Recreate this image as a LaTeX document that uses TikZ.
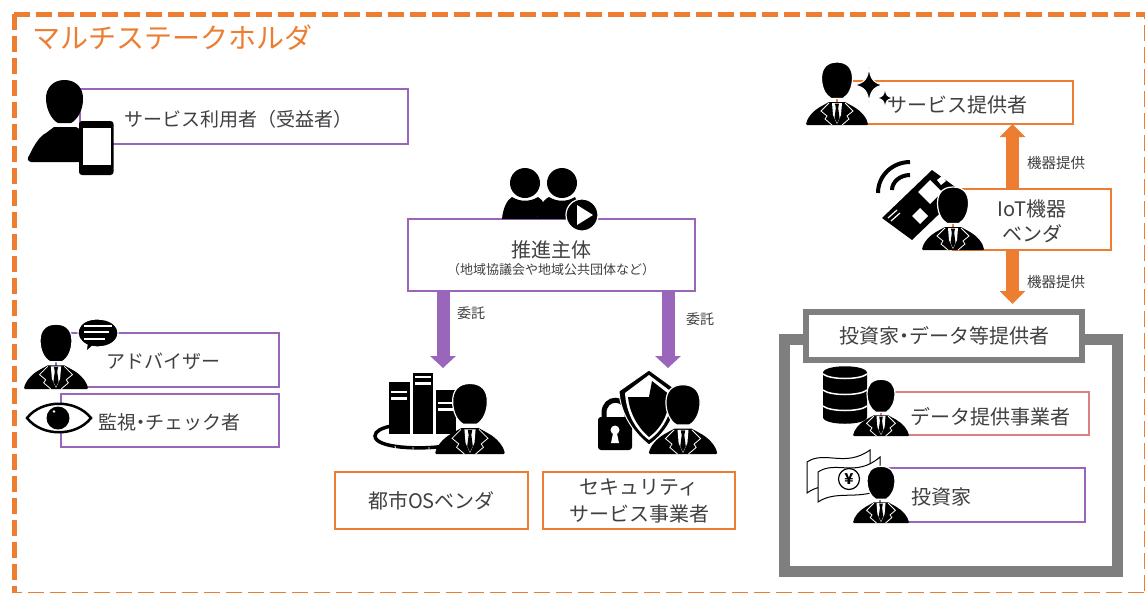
\documentclass[tikz,border=0pt]{standalone}
\usepackage{fontspec}
\setmainfont{Noto Sans CJK JP}
\usetikzlibrary{arrows.meta}
\definecolor{orng}{HTML}{ED7D31}
\definecolor{purp}{HTML}{9966BB}
\definecolor{pinkb}{HTML}{E07F7F}
\definecolor{grayb}{HTML}{7F7F7F}
\definecolor{txt}{HTML}{404040}
\newcommand{\fsz}[1]{\fontsize{#1}{#1}\selectfont}
\newcommand{\fszl}[2]{\fontsize{#1}{#2}\selectfont}
\tikzset{
 every node/.style={inner sep=0pt,outer sep=0pt,text=txt},
 pbox/.style={draw=purp,line width=2pt,fill=white},
 obox/.style={draw=orng,line width=2pt,fill=white},
 rbox/.style={draw=pinkb,line width=2pt,fill=white},
 gbox/.style={draw=grayb,line width=6pt,fill=white},
 lab/.style={font=\fsz{20}},
 small/.style={font=\fsz{14}},
 parrow/.style={draw=purp,line width=13pt,-{Triangle[width=25pt,length=12pt]}},
 oarrow/.style={draw=orng,line width=13pt,-{Triangle[width=25pt,length=13pt]}},
 suit/.pic={
  \fill[black] (-31,-1) .. controls (-30,-7) and (-24,-14) .. (-17,-18) -- (-8,-23) -- (8,-23) -- (17,-18) .. controls (24,-14) and (30,-7) .. (31,-1) -- (30,0) -- (-30,0) -- cycle;
  \draw[white,line width=1.2pt,fill=black] (0,-63) .. controls (-11,-63) and (-15.5,-56) .. (-15.5,-47) .. controls (-15.5,-38) and (-12,-30) .. (-6,-26.5) -- (6,-26.5) .. controls (12,-30) and (15.5,-38) .. (15.5,-47) .. controls (15.5,-56) and (11,-63) .. (0,-63) -- cycle;
  \fill[white] (-5,-22) -- (5,-22) -- (4,-10) -- (0,-1) -- (-4,-10) -- cycle;
  \fill[black] (-2,-21.5) -- (2,-21.5) -- (1.2,-17) -- (2.5,-7) -- (0,-2) -- (-2.5,-7) -- (-1.2,-17) -- cycle;
  \draw[white,line width=.8pt] (-8,-22) -- (-16,-14) -- (-10,-9) -- (-12,-6) -- (-5,0);
  \draw[white,line width=.8pt] (8,-22) -- (16,-14) -- (10,-9) -- (12,-6) -- (5,0);
 },
}
\begin{document}
\begin{tikzpicture}[x=1pt,y=-1pt]
\useasboundingbox (0,0) rectangle (1145,592);
\fill[white] (0,0) rectangle (1145,592);
% outer frame
\draw[orng,line width=5pt,dash pattern=on 16pt off 6pt] (14,14) rectangle (1146.5,594.4);
\node[anchor=west,text=orng,font=\fsz{28}] (title) at (32,38) {マルチステークホルダ};

% ---- user
\node[pbox,minimum width=328pt,minimum height=55pt] (user) at (244,116.5) {};
\node[font=\fsz{19}] (usert) at (238,119.5) {サービス利用者（受益者）};
\fill[black] (64.5,80) .. controls (53,80) and (46,88) .. (46,98) .. controls (46,110) and (52,120) .. (58,123) -- (71,123) .. controls (77,120) and (83.5,110) .. (83,98) .. controls (83,88) and (76,80) .. (64.5,80) -- cycle;
\fill[black] (54,127) -- (76,127) -- (85,132) -- (85,162) -- (31,162) .. controls (27,161) and (27,158) .. (30,154) .. controls (34,145) and (40,136) .. (46,133) -- cycle;
\fill[black,rounded corners=3pt] (79,121) rectangle (113.5,175);
\fill[white] (82.5,128) rectangle (110.5,165);

% ---- advisor
\node[pbox,minimum width=223pt,minimum height=54pt] (adv) at (167.5,360) {};
\node[font=\fsz{19}] (advt) at (163,361) {アドバイザー};
\pic[scale=1.03] at (56,389) {suit};
\draw[white,line width=1.2pt,fill=black] (86,352) -- (87,345) .. controls (72,338) and (76,319) .. (97,319) .. controls (125,319) and (125,347) .. (97,347) -- (92,346.5) -- cycle;
\draw[white,line width=2pt] (84,326) -- (112,326) (84,332) -- (109,332) (84,338.5) -- (105,338.5);

% ---- monitor
\node[pbox,minimum width=218pt,minimum height=53pt] (mon) at (170,420.5) {};
\node[font=\fsz{19}] (mont) at (169,422.5) {監視\hspace{-5pt}・\hspace{-5pt}チェック者};
\draw[black,line width=2.5pt,fill=white] (27,418) .. controls (42,399) and (76,399) .. (91,418) .. controls (76,437) and (42,437) .. (27,418) -- cycle;
\fill[black] (58,418) circle (11.5);
\fill[white] (54,411.5) circle (1.3);

% ---- promoter
\node[pbox,minimum width=287pt,minimum height=72pt] (prom) at (551.5,255) {};
\node[font=\fsz{20}] (promt) at (551,250) {推進主体};
\node[font=\fsz{13}] (proms) at (551,269.5) {（地域協議会や地域公共団体など）};
\fill[black] (525,183) circle (15);
\fill[black] (562,183) circle (15);
\fill[black] (502,219) .. controls (503,208) and (507,200) .. (512,197) .. controls (520,202) and (530,202) .. (538,197) .. controls (541,199) and (543,201) .. (544,204) .. controls (540,208) and (538,213) .. (537,219) -- cycle;
\fill[black] (537,219) .. controls (538,208) and (543,200) .. (549,197) .. controls (557,202) and (567,202) .. (575,197) -- (585,219) -- cycle;
\draw[white,line width=1.2pt,fill=black] (582,215) circle (16);
\fill[white] (577,205) -- (593,215) -- (577,225) -- cycle;

% ---- OS vendor
\node[obox,minimum width=193pt,minimum height=57pt,font=\fsz{20}] (os) at (431.5,500.5) {都市OSベンダ};
% ---- security
\node[obox,minimum width=192pt,minimum height=57pt,font=\fszl{20}{27},align=center] (sec) at (639,500.5) {セキュリティ\\サービス事業者};

% commission arrows
\coordinate (a1) at (443,368);
\coordinate (a2) at (668,368);
\draw[parrow] (a1 |- prom.south) -- (a1);
\draw[parrow] (a2 |- prom.south) -- (a2);
\node[small] (c1) at (471,313) {委託};
\node[small] (c2) at (700,319) {委託};

% server icon
\draw[black,line width=3.5pt] (445,446) .. controls (420,450) and (375,448) .. (375,436) .. controls (375,431) and (382,428) .. (391,426);
\draw[white,line width=.8pt] (395,446) -- (396,451) (413,447) -- (413,451) (429,447) -- (429,451);
\fill[black] (389,382) rectangle (410,434);
\fill[black] (413,373) rectangle (433,434);
\fill[black] (436,390) rectangle (456,434);
\draw[white,line width=2.5pt] (391,392) -- (407,392) (391,398.5) -- (407,398.5) (415,377) -- (431,377) (415,383.5) -- (431,383.5) (438,403) -- (454,403) (438,409.5) -- (454,409.5);
\pic[scale=1.12] at (470,454) {suit};

% shield/lock icon
\fill[black,rounded corners=3pt] (598,417) rectangle (632,450);
\draw[black,line width=5pt] (604,419) -- (604,413) .. controls (604,396) and (627,396) .. (627,413) -- (627,419);
\fill[white] (615,430) circle (4.5);
\fill[white] (613.5,431) -- (616.5,431) -- (619,443) -- (611,443) -- cycle;
\draw[white,line width=1pt,fill=black] (649,370) -- (678,391) .. controls (677,410) and (670,430) .. (649,445) .. controls (630,430) and (620,410) .. (619,391) -- cycle;
\fill[white] (649,375) -- (673,393) .. controls (672,410) and (666,428) .. (649,440) .. controls (633,428) and (626,410) .. (625,393) -- cycle;
\fill[black] (628,397) -- (649,397) -- (652,381) -- (670,395) .. controls (669,410) and (664,426) .. (649,437) .. controls (636,426) and (629,410) .. (628,397) -- cycle;
\pic[scale=1.1] at (683,454) {suit};

% ---- service provider
\node[obox,minimum width=236pt,minimum height=43pt] (svc) at (955,102.5) {};
\node[lab] (svct) at (957,105) {サービス提供者};
\pic at (837,125) {suit};
\draw[white,line width=1pt,fill=black] (869,67) .. controls (870,78) and (873,83) .. (883,85) .. controls (873,87) and (870,92) .. (869,103) .. controls (868,92) and (865,87) .. (854,85) .. controls (865,83) and (868,78) .. (869,67) -- cycle;
\fill[black] (885,91) .. controls (885.5,95) and (887,97) .. (891,98) .. controls (887,99) and (885.5,101) .. (885,105) .. controls (884.5,101) and (883,99) .. (879,98) .. controls (883,97) and (884.5,95) .. (885,91) -- cycle;

% ---- IoT
\node[obox,minimum width=158pt,minimum height=61pt] (iot) at (1032,219.5) {};
\node[font=\fszl{20}{25},align=center] (iott) at (1032,221) {IoT機器\\ベンダ};
% wifi and card
\draw[black,line width=4pt] (878,193) .. controls (878,175) and (893,162) .. (910,162);
\draw[black,line width=4pt] (892,190) .. controls (892,182) and (900,175) .. (910,175);
\fill[black] (932,170) -- (962,192) -- (912,240) -- (882,218) -- cycle;
\fill[white] (930,180) -- (942,192) -- (930,204) -- (918,192) -- cycle;
\fill[white] (920,208) -- (928,216) -- (920,224) -- (912,216) -- cycle;
\fill[white] (937,180) -- (942,176) -- (946,181) -- (941,185) -- cycle;
\draw[white,line width=1.2pt] (888,218) -- (897,210) (891,221) -- (900,213);
\pic at (953,250) {suit};
% provision arrows
\coordinate (a4) at (1012.5,200);
\coordinate (a3) at (1012.5,304);
\draw[oarrow] (iot.north -| a4) -- (svc.south -| a4);
\draw[oarrow] (iot.south -| a3) -- (a3);
\node[font=\fsz{14.5}] (p1) at (1056,163) {機器提供};
\node[font=\fsz{14.5}] (p2) at (1056,282) {機器提供};

% ---- investors frame
\node[draw=grayb,line width=11pt,fill=white,minimum width=333pt,minimum height=232pt] (frame) at (951,455.5) {};
\node[gbox,minimum width=276pt,minimum height=48pt,font=\fsz{20}] (head) at (944,336) {投資家\hspace{-5pt}・\hspace{-5pt}データ等提供者};
\node[rbox,minimum width=208pt,minimum height=43pt] (data) at (985,413.5) {};
\node[lab] (datat) at (990,417) {データ提供事業者};
\node[pbox,minimum width=205pt,minimum height=54pt] (inv) at (982.5,495) {};
\node[lab,anchor=west] (invt) at (911,497) {投資家};
% database
\fill[black] (823,373) .. controls (823,364) and (867,364) .. (867,373) -- (867,417) .. controls (867,426) and (823,426) .. (823,417) -- cycle;
\draw[white,line width=1.5pt] (823,374) .. controls (830,380) and (860,380) .. (867,374);
\draw[white,line width=1.5pt] (823,390) .. controls (830,396) and (860,396) .. (867,390);
\draw[white,line width=1.5pt] (823,406) .. controls (830,412) and (860,412) .. (867,406);
\pic[scale=.9] at (881,436) {suit};
% notes
\draw[black,line width=1pt,fill=white] (807,462) .. controls (825,450) and (845,468) .. (870,450) -- (870,480) .. controls (845,490) and (825,480) .. (807,493) -- cycle;
\draw[black,line width=1pt,fill=white] (818,472) .. controls (836,460) and (856,478) .. (880,457) -- (880,490) .. controls (856,500) and (836,490) .. (818,502) -- cycle;
\node[draw=black,line width=1.2pt,circle,minimum size=21pt,fill=white,text=black,font=\fsz{15}\bfseries] (yen) at (849,479) {¥};
\pic[scale=.9] at (881,523) {suit};
\end{tikzpicture}
\end{document}
